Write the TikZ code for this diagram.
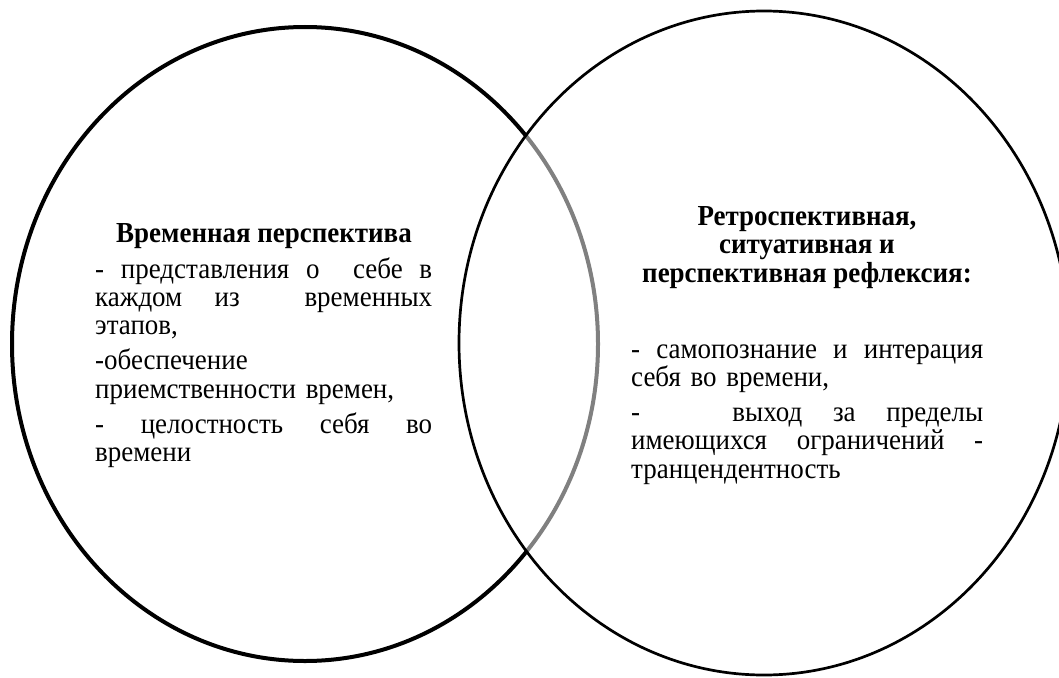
\documentclass[tikz,border=0pt]{standalone}
\usepackage{fontspec}
\setmainfont{Liberation Serif}[Ligatures=TeX, FakeStretch=0.93]
\newlength\lw
\newcommand\jl[1]{\leavevmode\hbox to \lw{#1}}
\tikzset{
  bodytxt/.style={font=\fontsize{29}{28.3}\selectfont, inner sep=0pt, text width=#1, anchor=base west},
  headtxt/.style={font=\fontsize{29}{28.3}\selectfont\bfseries, inner sep=0pt, anchor=base},
  leftell/.style={line width=4pt, draw=black},
  rightell/.style={line width=2.7pt, draw=black, fill=white, fill opacity=0.5},
}
\begin{document}
\begin{tikzpicture}[x=1pt,y=-1pt]
\useasboundingbox (0,0) rectangle (1059,677);
\clip (0,0) rectangle (1059,677);
\draw[leftell] (305,344) ellipse [x radius=293, y radius=317];
\draw[rightell] (764,343) ellipse [x radius=305, y radius=332];

\node[headtxt] (lh) at (264,242) {Временная перспектива};
\node[bodytxt=337pt] (lb) at (95,278) {\setlength\lw{337pt}%
\jl{-\hfill представления\hfill о\hfill\hfill себе\hfill в}\\
\jl{каждом\hfill из\hfill\hfill временных}\\
этапов,\\[7pt]
-обеспечение\\
приемственности времен,\\[7pt]
\jl{-\hfill целостность\hfill себя\hfill во}\\
времени};

\node[headtxt] (rh1) at (807,225) {Ретроспективная,};
\node[headtxt] (rh2) at (807,253) {ситуативная и};
\node[headtxt] (rh3) at (807,282) {перспективная рефлексия:};
\node[bodytxt=352pt] (rb) at (631,358) {\setlength\lw{352pt}%
\jl{-\hfill самопознание\hfill и\hfill интерация}\\
себя во времени,\\[7pt]
\jl{-\hfill\hfill\hfill выход\hfill за\hfill пределы}\\
\jl{имеющихся\hfill ограничений\hfill -}\\
транцендентность};
\end{tikzpicture}
\end{document}
